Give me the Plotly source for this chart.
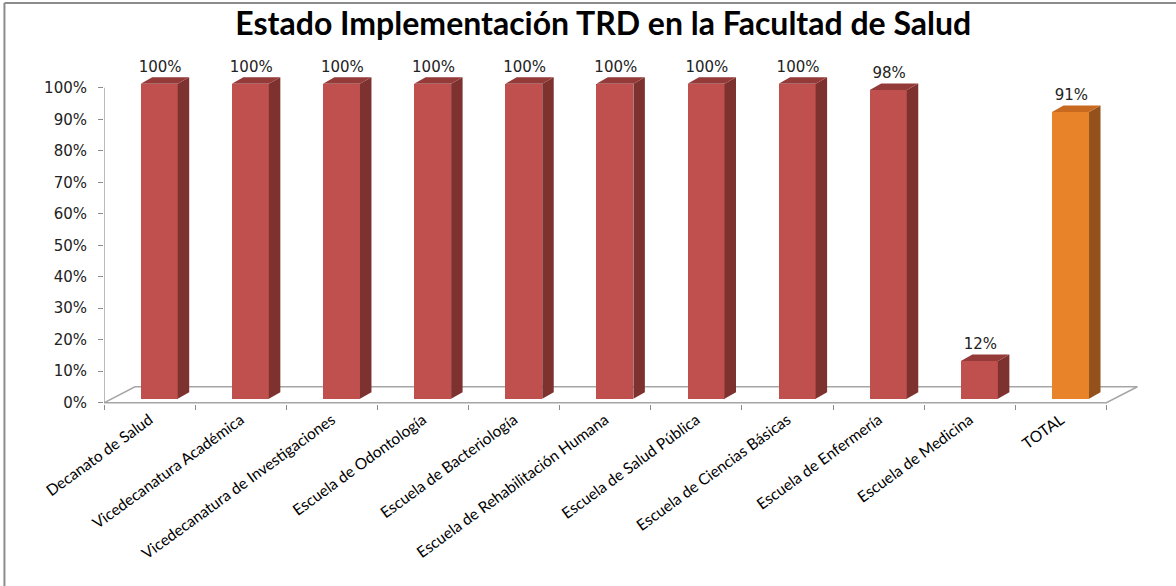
import plotly.graph_objects as go

# datos
categorias = [
    "Decanato de Salud",
    "Vicedecanatura Académica",
    "Vicedecanatura de Investigaciones",
    "Escuela de Odontología",
    "Escuela de Bacteriología",
    "Escuela de Rehabilitación Humana",
    "Escuela de Salud Pública",
    "Escuela de Ciencias Básicas",
    "Escuela de Enfermería",
    "Escuela de Medicina",
    "TOTAL",
]
valores = [100, 100, 100, 100, 100, 100, 100, 100, 98, 12, 91]
ticks_y = [0, 10, 20, 30, 40, 50, 60, 70, 80, 90, 100]

# geometria del efecto 3D (en unidades de los ejes)
FRONT_L, FRONT_R = 0.403, 0.809
BASE = 1.27
DX, DY = 0.126, 2.06
FLOOR_DX, FLOOR_DY = 0.34, 5.08

rojo = dict(front="#C0504D", side="#7D3230", top="#943A38")
naranja = dict(front="#E8832A", side="#94511B", top="#C76A1F")

n = len(categorias)
fig = go.Figure()


def caras(indices):
    sx, sy, tx, ty = [], [], [], []
    for i in indices:
        v = valores[i]
        l, r = i + FRONT_L, i + FRONT_R
        sx += [r, r + DX, r + DX, r, r, None]
        sy += [BASE, BASE + DY, BASE + v + DY, BASE + v, BASE, None]
        tx += [l, l + DX, r + DX, r, l, None]
        ty += [BASE + v, BASE + v + DY, BASE + v + DY, BASE + v, BASE + v, None]
    return sx, sy, tx, ty


grupos = [(list(range(n - 1)), rojo), ([n - 1], naranja)]
for idx, col in grupos:
    sx, sy, tx, ty = caras(idx)
    fig.add_trace(go.Scatter(x=sx, y=sy, mode="lines", fill="toself",
                             fillcolor=col["side"], line=dict(width=0, color=col["side"]),
                             hoverinfo="skip", showlegend=False))
    fig.add_trace(go.Scatter(x=tx, y=ty, mode="lines", fill="toself",
                             fillcolor=col["top"], line=dict(width=0, color=col["top"]),
                             hoverinfo="skip", showlegend=False))

centros = [i + (FRONT_L + FRONT_R) / 2 for i in range(n)]
colores = [rojo["front"]] * (n - 1) + [naranja["front"]]

fig.add_trace(go.Bar(
    x=centros, y=valores, base=BASE, width=FRONT_R - FRONT_L,
    marker=dict(color=colores, line=dict(width=0)),
    hoverinfo="skip", showlegend=False))

# etiquetas de datos
fig.add_trace(go.Scatter(
    x=[c + 0.01 for c in centros], y=[v + 6.3 for v in valores],
    mode="text", text=[f"{v}%" for v in valores],
    textfont=dict(family="DejaVu Sans", size=15, color="#222222"),
    hoverinfo="skip", showlegend=False))

# piso (debajo de las barras)
piso = f"M 0 0 L {n} 0 L {n + FLOOR_DX} {FLOOR_DY} L {FLOOR_DX} {FLOOR_DY} Z"

fig.update_layout(
    width=1176, height=586,
    margin=dict(l=104, r=24, t=56, b=182, autoexpand=False),
    paper_bgcolor="white", plot_bgcolor="white",
    bargap=0,
    title=dict(text="<b>Estado Implementación TRD en la Facultad de Salud</b>",
               x=0.513, xanchor="center", y=0.959, yanchor="middle",
               font=dict(family="Lato", size=32, color="black")),
    xaxis=dict(range=[0, 11.5], showgrid=False, zeroline=False, showline=False,
               automargin=False,
               tickmode="array", tickvals=[i + 0.5 for i in range(n)], ticktext=categorias,
               tickangle=-36, ticks="", ticklabelstandoff=3,
               tickfont=dict(family="Lato", size=15.5, color="black"),
               minor=dict(tickmode="array", tickvals=list(range(n + 1)), ticks="outside",
                          ticklen=5, tickcolor="#8C8C8C", tickwidth=1)),
    yaxis=dict(range=[-0.4, 110.08], showgrid=False, zeroline=False, showline=False,
               automargin=False,
               tickmode="array", tickvals=ticks_y, ticktext=[f"{t}%" for t in ticks_y],
               ticks="outside", ticklen=5, tickcolor="#8C8C8C",
               ticklabelstandoff=8,
               tickfont=dict(family="DejaVu Sans", size=15, color="#222222")),
    shapes=[
        dict(type="path", xref="x", yref="y", path=piso, layer="below",
             fillcolor="white", line=dict(color="#A6A6A6", width=1.5)),
        dict(type="line", xref="x", yref="y", x0=0, x1=0, y0=0, y1=100,
             line=dict(color="#8C8C8C", width=1.2)),
        dict(type="line", xref="paper", yref="paper", x0=-0.095, x1=-0.095, y0=-1, y1=1.152,
             line=dict(color="#8C8C8C", width=2)),
        dict(type="line", xref="paper", yref="paper", x0=-0.095, x1=1.03, y0=1.152, y1=1.152,
             line=dict(color="#8C8C8C", width=2)),
    ],
)

# quitar el margen del body para que la figura empiece en (0, 0)
fig.write_html("out.html", config={"displayModeBar": False},
               post_script="document.body.style.margin='0px';")
